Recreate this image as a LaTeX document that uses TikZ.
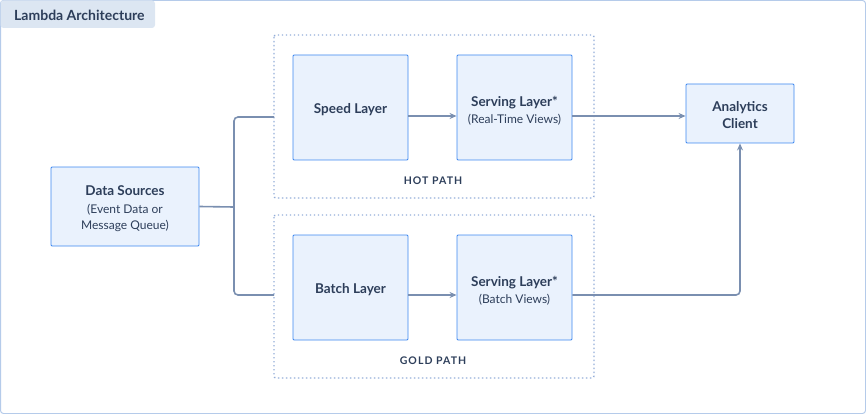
\documentclass[tikz,border=0pt]{standalone}
\usepackage{fontspec}
\setmainfont{Lato}
\usetikzlibrary{arrows.meta}
\definecolor{ink}{HTML}{2D3E5A}
\definecolor{boxfill}{HTML}{EAF2FD}
\definecolor{boxline}{HTML}{3D87F0}
\definecolor{grp}{HTML}{93ADD8}
\definecolor{wire}{HTML}{7A8FB0}
\definecolor{frame}{HTML}{B5CBEA}
\definecolor{tab}{HTML}{DCE6F2}
\newcommand\toppad[1]{\rule{0pt}{#1}}
\begin{document}
\begin{tikzpicture}[x=1pt,y=-1pt,
  blk/.style={draw=boxline,fill=boxfill,line width=0.9pt,rounded corners=1pt,align=center,text=ink,inner sep=0pt},
  grpbox/.style={draw=grp,line width=1.4pt,dash pattern=on 1.4pt off 2.6pt,rounded corners=2pt},
  lbl/.style={text=ink,font=\bfseries\fontsize{10.5}{12}\selectfont\addfontfeatures{LetterSpace=10}},
  wr/.style={draw=wire,line width=1.6pt,rounded corners=4pt},
  arr/.style={wr,-{Stealth[length=7pt,width=6pt]}}]
\useasboundingbox (0,0) rectangle (866,414);
\draw[frame,line width=1pt,rounded corners=3pt] (0.5,0.5) rectangle (865.5,413.5);
\fill[tab,rounded corners=3pt] (0.5,0.5) rectangle (155,28);
\node[text=ink,font=\bfseries\fontsize{14}{16}\selectfont,anchor=west,inner sep=0pt] (title) at (14,15) {Lambda Architecture};
% groups
\draw[grpbox] (274,35) rectangle (594,198);
\draw[grpbox] (274,215) rectangle (594,378);
\coordinate (hotin) at (274,117);
\coordinate (goldin) at (274,295);
\coordinate (split) at (234,207);
\node[lbl] (hot) at (433,181) {HOT PATH};
\node[lbl] (gold) at (433,361) {GOLD PATH};
% boxes
\node[blk,minimum width=115pt,minimum height=105pt,font=\bfseries\fontsize{13.5}{15}\selectfont] (speed) at (350.5,107.5) {\toppad{14pt}Speed Layer};
\node[blk,minimum width=115pt,minimum height=105pt,font=\fontsize{12}{17.5}\selectfont] (servrt) at (514.5,107.5) {{\toppad{17pt}\bfseries\fontsize{13.5}{15}\selectfont Serving Layer*}\\{(Real-Time Views)}};
\node[blk,minimum width=115pt,minimum height=105pt,font=\bfseries\fontsize{13.5}{15}\selectfont] (batch) at (350.5,287.5) {\toppad{14pt}Batch Layer};
\node[blk,minimum width=115pt,minimum height=105pt,font=\fontsize{12}{17.5}\selectfont] (servb) at (514.5,287.5) {{\toppad{17pt}\bfseries\fontsize{13.5}{15}\selectfont Serving Layer*}\\{(Batch Views)}};
\node[blk,minimum width=148pt,minimum height=79pt,font=\fontsize{12}{16}\selectfont] (src) at (125,206.5) {{\toppad{14pt}\bfseries\fontsize{13.5}{15}\selectfont Data Sources}\\[2pt](Event Data or\\Message Queue)};
\node[blk,minimum width=108pt,minimum height=59pt,font=\bfseries\fontsize{13.5}{17}\selectfont] (client) at (740,113.5) {\toppad{14pt}Analytics\\Client};
% wires
\draw[wr] (src.east) -- (split);
\draw[wr] (split) |- (hotin);
\draw[wr] (split) |- (goldin);
\draw[arr] (speed.east |- 0,116) -- (servrt.west |- 0,116);
\draw[arr] (servrt.east |- 0,116) -- (client.west |- 0,116);
\draw[arr] (batch.east |- 0,295) -- (servb.west |- 0,295);
\draw[arr] (servb.east |- 0,295) -| (client.south);
\end{tikzpicture}
\end{document}
